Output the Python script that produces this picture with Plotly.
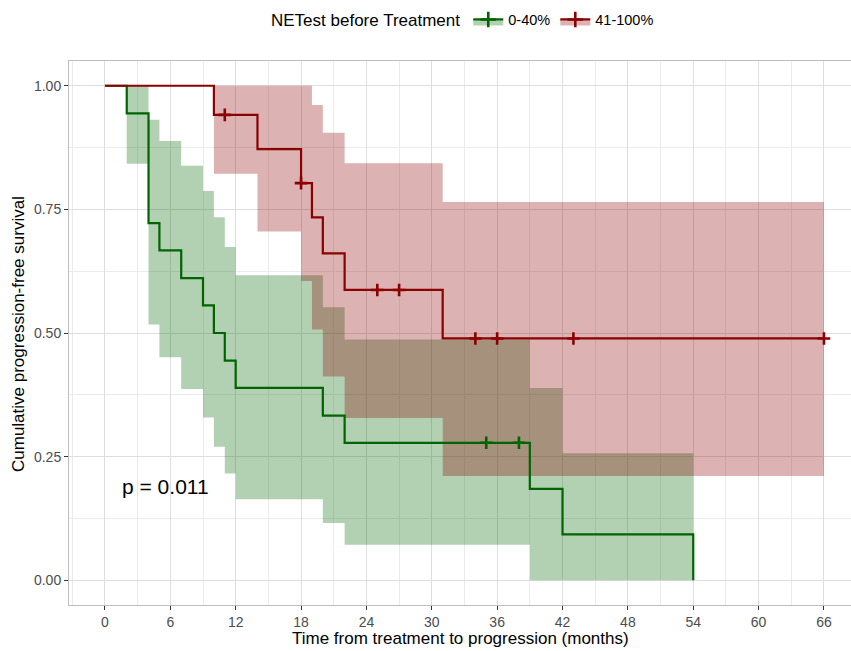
import plotly.graph_objects as go
import numpy as np

# ---------------- data ----------------
green_name = "0-40%"
red_name = "41-100%"

green_time = [0, 2, 4, 5, 7, 9, 10, 11, 12, 20, 22, 39, 42, 54]
green_surv = [1.0, 0.944, 0.722, 0.667, 0.611, 0.556, 0.500, 0.444, 0.389, 0.333, 0.278, 0.185, 0.093, 0.0]
green_ci_time = [2, 4, 5, 7, 9, 10, 11, 12, 20, 22, 39, 42, 54]
green_upper = [1.0, 0.931, 0.888, 0.838, 0.787, 0.734, 0.674, 0.617, 0.552, 0.487, 0.389, 0.257, 0.257]
green_lower = [0.842, 0.517, 0.451, 0.387, 0.329, 0.270, 0.216, 0.164, 0.116, 0.072, 0.0, 0.0, 0.0]
green_censor = [35, 38]

red_time = [0, 10, 14, 18, 19, 20, 22, 31, 66]
red_surv = [1.0, 0.941, 0.872, 0.803, 0.734, 0.661, 0.587, 0.489, 0.489]
red_ci_time = [10, 14, 18, 19, 20, 22, 31, 66]
red_upper = [1.0, 1.0, 1.0, 0.961, 0.905, 0.843, 0.765, 0.765]
red_lower = [0.822, 0.705, 0.605, 0.507, 0.412, 0.328, 0.211, 0.211]
red_censor = [11, 18, 25, 27, 34, 36, 43, 66]

x_ticks = list(range(0, 67, 6))
y_ticks = [0.0, 0.25, 0.5, 0.75, 1.0]
y_tick_labels = ["0.00", "0.25", "0.50", "0.75", "1.00"]
p_text = "p = 0.011"
x_title = "Time from treatment to progression (months)"
y_title = "Cumulative progression-free survival"
legend_title = "NETest before Treatment"

GREEN = "#006400"
RED = "#8B0000"
GREEN_FILL = "rgba(0,100,0,0.3)"
RED_FILL = "rgba(139,0,0,0.3)"
FONT = "Liberation Sans, Arial, sans-serif"


def step_value(times, surv, t):
    idx = np.searchsorted(np.array(times), t, side="right") - 1
    return surv[max(idx, 0)]


fig = go.Figure()

# confidence bands
for ci_t, lo, up, fc in [(green_ci_time, green_lower, green_upper, GREEN_FILL),
                         (red_ci_time, red_lower, red_upper, RED_FILL)]:
    fig.add_trace(go.Scatter(x=ci_t, y=lo, mode="lines", line=dict(width=0, shape="hv"),
                             showlegend=False, hoverinfo="skip"))
    fig.add_trace(go.Scatter(x=ci_t, y=up, mode="lines", line=dict(width=0, shape="hv"),
                             fill="tonexty", fillcolor=fc, showlegend=False, hoverinfo="skip"))

# survival curves
for t, s, c in [(green_time, green_surv, GREEN), (red_time, red_surv, RED)]:
    fig.add_trace(go.Scatter(x=t, y=s, mode="lines", line=dict(color=c, width=2.2, shape="hv"),
                             showlegend=False))

# censor marks
for cens, t, s, c in [(green_censor, green_time, green_surv, GREEN),
                      (red_censor, red_time, red_surv, RED)]:
    fig.add_trace(go.Scatter(x=cens, y=[step_value(t, s, v) for v in cens], mode="markers",
                             marker=dict(symbol="cross-thin", size=9, line=dict(color=c, width=2.6)),
                             showlegend=False))

# legend entries
for name, c, fc in [(green_name, GREEN, GREEN_FILL), (red_name, RED, RED_FILL)]:
    fig.add_trace(go.Scatter(x=[None], y=[None], name=name, mode="lines+markers",
                             fill="toself", fillcolor=fc,
                             line=dict(color=c, width=2.2),
                             marker=dict(symbol="cross-thin", size=11, line=dict(color=c, width=2.6))))

W, H = 851, 651
ML, MR, MT, MB = 69, 0, 61, 46
pw, ph = W - ML - MR, H - MT - MB

fig.add_annotation(x=1.35, y=0.189, xref="x", yref="y", text=p_text, showarrow=False,
                   xanchor="left", yanchor="middle",
                   font=dict(family=FONT, size=21, color="black"))

# axis titles (placed by pixel position converted to paper coordinates)
fig.add_annotation(x=(460 - ML) / pw, y=(H - MB - 638) / ph, xref="paper", yref="paper",
                   text=x_title, showarrow=False, xanchor="center", yanchor="middle",
                   font=dict(family=FONT, size=17, color="black"))
fig.add_annotation(x=(18 - ML) / pw, y=(H - MB - 334) / ph, xref="paper", yref="paper",
                   text=y_title, showarrow=False, textangle=-90, xanchor="center", yanchor="middle",
                   font=dict(family=FONT, size=17, color="black"))

axis_common = dict(
    showline=True, mirror=True, linecolor="#BDBDBD", linewidth=1,
    ticks="outside", ticklen=4, tickcolor="#333333", tickwidth=1,
    showgrid=True, gridcolor="#DEDEDE", gridwidth=1,
    zeroline=False, automargin=False,
    tickfont=dict(family=FONT, size=14, color="#4D4D4D"),
)

fig.update_xaxes(**axis_common, range=[-3.3, 68.48], tickvals=x_ticks,
                 minor=dict(dtick=3, tick0=0, showgrid=True, gridcolor="#EBEBEB", gridwidth=1, ticks=""))
fig.update_yaxes(**axis_common, range=[-0.05, 1.05], tickvals=y_ticks, ticktext=y_tick_labels,
                 minor=dict(dtick=0.125, tick0=0, showgrid=True, gridcolor="#EBEBEB", gridwidth=1, ticks=""))

fig.update_layout(
    width=W, height=H,
    margin=dict(l=ML, r=MR, t=MT, b=MB, autoexpand=False),
    plot_bgcolor="white", paper_bgcolor="white",
    font=dict(family=FONT),
    legend=dict(orientation="h", x=(464 / W), xanchor="center", xref="container",
                y=1 - 20 / H, yanchor="middle", yref="container",
                traceorder="normal",
                title=dict(text=legend_title, side="left",
                           font=dict(family=FONT, size=17, color="black")),
                font=dict(family=FONT, size=14.5, color="black"),
                itemwidth=30, bgcolor="rgba(0,0,0,0)"),
)

fig.write_html("out.html", config={"displayModeBar": False},
               post_script="document.body.style.margin='0';document.body.style.overflow='hidden';")
